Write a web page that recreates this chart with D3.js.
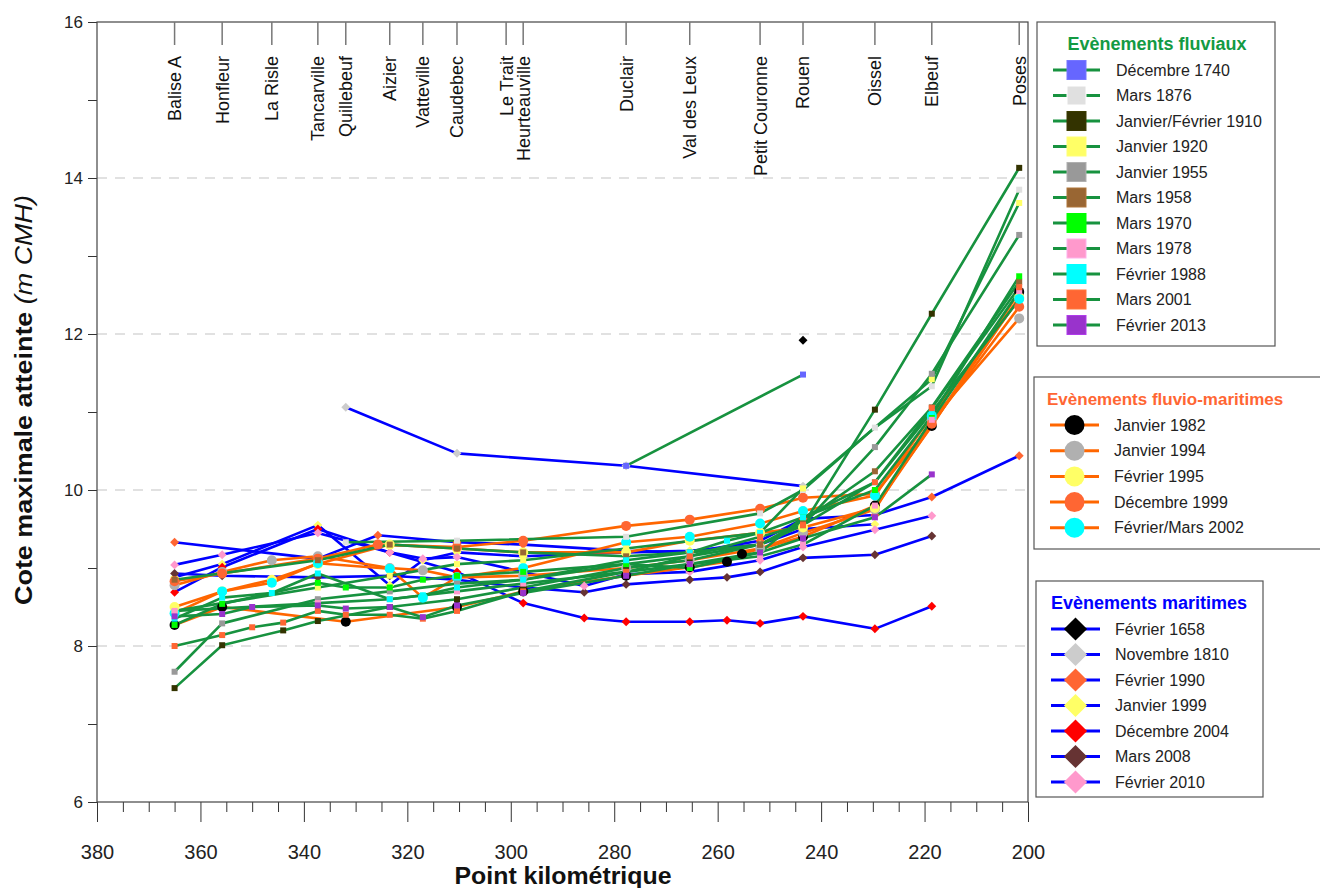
<!DOCTYPE html>
<html><head><meta charset="utf-8">
<script src="https://cdn.jsdelivr.net/npm/d3@7"></script>
<style>body{margin:0;background:#fff;} svg{font-family:"Liberation Sans",Arial,Helvetica,sans-serif;}</style>
</head><body><svg id="c" width="1320" height="888"></svg>
<script>
// ---------- DATA ----------
const stations = ["Balise A","Honfleur","La Risle","Tancarville","Quillebeuf","Aizier","Vatteville","Caudebec","Le Trait","Heurteauville","Duclair","Val des Leux","Petit Couronne","Rouen","Oissel","Elbeuf","Poses"];
const stationPK = [365,355.8,346.2,337.3,331.9,323.4,317,310.4,300.9,297.6,277.7,265.4,251.8,243.5,229.6,218.6,201.7];
const xTicks = [380,360,340,320,300,280,260,240,220,200];
const yTicks = [6,8,10,12,14,16];

// Evènements fluviaux [PK, cote]
const dec1740 = [[277.7,10.31],[243.5,11.48]];
const mar1876 = [[331.9,9.33],[310.4,9.35],[277.7,9.4],[251.8,9.7],[243.5,10.0],[229.6,10.8],[218.6,11.33],[201.7,13.85]];
const janfev1910 = [[365,7.46],[355.8,8.01],[344,8.2],[337.3,8.32],[323.4,8.5],[310.4,8.6],[297.6,8.75],[277.7,9.0],[265.4,9.1],[251.8,9.3],[243.5,9.55],[229.6,11.03],[218.6,12.26],[201.7,14.13]];
const jan1920 = [[365,8.45],[337.3,8.75],[323.4,8.9],[310.4,9.05],[297.6,9.1],[277.7,9.25],[251.8,9.45],[243.5,10.02],[218.6,11.42],[201.7,13.68]];
const jan1955 = [[365,7.67],[355.8,8.29],[337.3,8.6],[323.4,8.7],[310.4,8.8],[297.6,8.85],[277.7,9.05],[265.4,9.15],[251.8,9.3],[243.5,9.55],[229.6,10.55],[218.6,11.49],[201.7,13.27]];
const mar1958 = [[365,8.85],[337.3,9.1],[323.4,9.3],[310.4,9.25],[297.6,9.2],[277.7,9.15],[265.4,9.2],[251.8,9.3],[243.5,9.6],[229.6,10.24],[218.6,11.06],[201.7,12.67]];
const mar1970 = [[365,8.27],[355.8,8.54],[337.3,8.81],[331.9,8.75],[323.4,8.75],[317,8.85],[310.4,8.9],[297.6,8.95],[277.7,9.05],[265.4,9.0],[251.8,9.2],[243.5,9.65],[229.6,10.0],[218.6,10.95],[201.7,12.74]];
const mar1978 = [[365,8.45],[337.3,8.55],[323.4,8.6],[310.4,8.7],[297.6,8.8],[277.7,8.95],[265.4,9.05],[251.8,9.15],[243.5,9.3],[229.6,9.8],[218.6,10.9],[201.7,12.55]];
const fev1988 = [[365,8.35],[355.8,8.62],[346.2,8.68],[337.3,8.93],[323.4,8.6],[317,8.65],[310.4,8.75],[297.6,8.85],[277.7,9.1],[265.4,9.2],[258.2,9.35],[251.8,9.45],[243.5,9.65],[229.6,10.1],[218.6,11.0],[201.7,12.44]];
const mar2001 = [[365,8.0],[355.8,8.14],[350,8.24],[344,8.3],[337.3,8.45],[331.9,8.4],[323.4,8.4],[317,8.35],[310.4,8.45],[297.6,8.7],[277.7,8.95],[265.4,9.15],[251.8,9.4],[243.5,9.55],[229.6,10.1],[218.6,11.05],[201.7,12.6]];
const fev2013 = [[365,8.38],[355.8,8.41],[350,8.5],[337.3,8.52],[331.9,8.48],[323.4,8.5],[317,8.37],[310.4,8.52],[297.6,8.68],[277.7,8.9],[265.4,9.05],[251.8,9.2],[243.5,9.38],[229.6,9.65],[218.6,10.2]];

// Evènements fluvio-maritimes
const jan1982 = [[365,8.27],[355.8,8.5],[331.9,8.31],[310.4,8.5],[297.6,8.7],[277.7,8.9],[265.4,9.01],[258.2,9.08],[255.3,9.18],[243.5,9.4],[229.6,9.8],[218.6,10.82],[201.7,12.54]];
const jan1994 = [[365,8.78],[355.8,8.95],[346.2,9.1],[337.3,9.15],[323.4,9.0],[317,8.97],[310.4,8.88],[297.6,8.9],[277.7,9.0],[265.4,9.1],[251.8,9.25],[243.5,9.45],[229.6,9.75],[218.6,10.9],[201.7,12.2]];
const fev1995 = [[365,8.5],[355.8,8.7],[346.2,8.85],[337.3,9.05],[323.4,9.3],[310.4,9.25],[297.6,9.2],[277.7,9.2],[265.4,9.35],[251.8,9.45],[243.5,9.52],[229.6,9.77],[201.7,12.47]];
const dec1999 = [[365,8.83],[355.8,8.93],[337.3,9.12],[325.7,9.3],[310.4,9.27],[297.6,9.35],[277.7,9.54],[265.4,9.62],[251.8,9.76],[243.5,9.9],[229.6,9.95],[218.6,10.85],[201.7,12.35]];
const fevmar2002 = [[365,8.42],[355.8,8.7],[346.2,8.81],[337.3,9.06],[323.4,8.99],[317,8.62],[310.4,8.88],[297.6,9.0],[277.7,9.33],[265.4,9.4],[251.8,9.57],[243.5,9.73],[229.6,9.93],[218.6,10.95],[201.7,12.45]];

// Evènements maritimes
const fev1658 = [[243.5,11.92]];
const nov1810 = [[331.9,11.06],[310.4,10.47],[277.7,10.31],[243.5,10.05]];
const fev1990 = [[365,9.33],[337.3,9.12],[325.7,9.42],[310.4,9.33],[297.6,9.3],[277.7,9.22],[265.4,9.2],[251.8,9.35],[243.5,9.63],[229.6,9.68],[218.6,9.91],[201.7,10.44]];
const jan1999 = [[365,8.88],[355.8,9.05],[337.3,9.55],[323.4,8.78],[317,9.1],[310.4,9.2],[297.6,9.15],[277.7,9.2],[265.4,9.22],[251.8,9.3],[243.5,9.5],[229.6,9.56]];
const dec2004 = [[365,8.69],[355.8,9.01],[337.3,9.5],[323.4,9.2],[310.4,8.95],[297.6,8.55],[285.8,8.36],[277.7,8.31],[265.4,8.31],[258.2,8.33],[251.8,8.29],[243.5,8.38],[229.6,8.22],[218.6,8.51]];
const mar2008 = [[365,8.93],[355.8,8.9],[337.3,8.88],[323.4,8.9],[310.4,8.85],[297.6,8.75],[285.8,8.69],[277.7,8.79],[265.4,8.85],[258.2,8.88],[251.8,8.95],[243.5,9.13],[229.6,9.17],[218.6,9.41]];
const fev2010 = [[365,9.04],[355.8,9.17],[337.3,9.45],[323.4,9.2],[317,9.12],[310.4,9.14],[297.6,8.95],[285.8,8.77],[277.7,8.92],[265.4,8.95],[251.8,9.1],[243.5,9.27],[229.6,9.49],[218.6,9.67]];

const fluvNames = ["Décembre 1740","Mars 1876","Janvier/Février 1910","Janvier 1920","Janvier 1955","Mars 1958","Mars 1970","Mars 1978","Février 1988","Mars 2001","Février 2013"];
const fluvData = [dec1740,mar1876,janfev1910,jan1920,jan1955,mar1958,mar1970,mar1978,fev1988,mar2001,fev2013];
const fmNames = ["Janvier 1982","Janvier 1994","Février 1995","Décembre 1999","Février/Mars 2002"];
const fmData = [jan1982,jan1994,fev1995,dec1999,fevmar2002];
const marNames = ["Février 1658","Novembre 1810","Février 1990","Janvier 1999","Décembre 2004","Mars 2008","Février 2010"];
const marData = [fev1658,nov1810,fev1990,jan1999,dec2004,mar2008,fev2010];

// ---------- STYLES ----------
const fluvColors = ["#6666ff","#e0e0e0","#333300","#ffff66","#999999","#996633","#00ff00","#ff99cc","#00ffff","#ff6633","#9933cc"];
const fmColors = ["#000000","#b0b0b0","#ffff66","#ff6633","#00ffff"];
const marColors = ["#000000","#cccccc","#ff6633","#ffff66","#ff0000","#663333","#ff99cc"];
const GREEN = "#17923f", ORANGE = "#ff6600", BLUE = "#0000ff";

// ---------- CHART ----------
const svg = d3.select("#c");
const L = 97, R = 1028, T = 22, B = 802;
const x = d3.scaleLinear().domain([380,200]).range([L,R]);
const y = d3.scaleLinear().domain([6,16]).range([B,T]);

// grid
svg.append("g").selectAll("line").data([8,10,12,14]).join("line")
  .attr("x1",L).attr("x2",R).attr("y1",d=>y(d)).attr("y2",d=>y(d))
  .attr("stroke","#d8d8d8").attr("stroke-width",1.5).attr("stroke-dasharray","10,8");

// axes
const yAx = svg.append("g").attr("transform",`translate(${L},0)`)
  .call(d3.axisLeft(y).tickValues(yTicks).tickSize(9).tickFormat(d3.format("d")));
const yMin = svg.append("g").attr("transform",`translate(${L},0)`)
  .call(d3.axisLeft(y).tickValues([7,9,11,13,15]).tickSize(9).tickFormat(""));
const xAx = svg.append("g").attr("transform",`translate(0,${B})`)
  .call(d3.axisBottom(x).tickValues(xTicks).tickSize(20).tickFormat(d3.format("d")));
const minorX = d3.range(375,200,-5).filter(v=>v%20!==0);
const xMin = svg.append("g").attr("transform",`translate(0,${B})`)
  .call(d3.axisBottom(x).tickValues(minorX).tickSize(10).tickFormat(""));
[yAx,yMin,xAx,xMin].forEach(g=>{g.select(".domain").remove(); g.selectAll("line").attr("stroke","#333");});
yAx.selectAll("text").attr("font-size",17).attr("fill","#222").attr("x",-14);
xAx.selectAll("text").attr("font-size",20).attr("fill","#222").attr("dy","1.7em");

// frame
svg.append("rect").attr("x",L).attr("y",T).attr("width",R-L).attr("height",B-T)
  .attr("fill","none").attr("stroke","#444").attr("stroke-width",1.2);

// station ticks and labels
const st = svg.append("g");
st.selectAll("line").data(stationPK).join("line")
  .attr("x1",d=>x(d)).attr("x2",d=>x(d)).attr("y1",T).attr("y2",T+23)
  .attr("stroke","#777").attr("stroke-width",1.5);
st.selectAll("text").data(stations).join("text")
  .attr("transform",(d,i)=>`translate(${x(stationPK[i])},56) rotate(-90)`)
  .attr("text-anchor","end").attr("dy","0.36em").attr("font-size",18).attr("fill","#111")
  .text(d=>d);

// series
const line = d3.line().x(d=>x(d[0])).y(d=>y(d[1]));
const sq = d3.symbol().type(d3.symbolSquare);
function drawGroup(data, lineColor){
  const g = svg.append("g");
  data.forEach(s=>{ if(s.length>1) g.append("path").attr("d",line(s)).attr("fill","none")
     .attr("stroke",lineColor).attr("stroke-width",2.6).attr("stroke-linejoin","round"); });
}
drawGroup(marData, BLUE);
drawGroup(fmData, ORANGE);
drawGroup(fluvData, GREEN);
function drawMarkers(data, colors, kind){
  const g = svg.append("g");
  data.forEach((s,i)=>{
    s.forEach(p=>{
      if(kind==="sq") g.append("path").attr("d",sq.size(36)()).attr("transform",`translate(${x(p[0])},${y(p[1])})`).attr("fill",colors[i]);
      else if(kind==="ci") g.append("circle").attr("cx",x(p[0])).attr("cy",y(p[1])).attr("r",5).attr("fill",colors[i]);
      else g.append("path").attr("d",sq.size(40)()).attr("transform",`translate(${x(p[0])},${y(p[1])}) rotate(45)`).attr("fill",colors[i]);
    });
  });
}
drawMarkers(marData, marColors, "di");
drawMarkers(fmData, fmColors, "ci");
drawMarkers(fluvData, fluvColors, "sq");

// axis titles
svg.append("text").attr("x",563).attr("y",884).attr("text-anchor","middle")
  .attr("font-size",24).attr("font-weight","bold").attr("fill","#111")
  .attr("textLength",217).attr("lengthAdjust","spacingAndGlyphs").text("Point kilométrique");
const yt = svg.append("text").attr("transform","translate(32,400) rotate(-90)").attr("text-anchor","middle")
  .attr("font-size",24).attr("fill","#111").attr("textLength",410).attr("lengthAdjust","spacingAndGlyphs");
yt.append("tspan").attr("font-weight","bold").text("Cote maximale atteinte ");
yt.append("tspan").attr("font-style","italic").text("(m CMH)");

// legends
function legend(box, title, titleColor, names, colors, lineColor, kind){
  const g = svg.append("g");
  g.append("rect").attr("x",box.x).attr("y",box.y).attr("width",box.w).attr("height",box.h)
    .attr("fill","#fff").attr("stroke","#555").attr("stroke-width",1.2);
  g.append("text").attr("x",box.tx).attr("y",box.ty).attr("text-anchor",box.anchor)
    .attr("font-size",box.fs).attr("font-weight","bold").attr("fill",titleColor).text(title);
  names.forEach((n,i)=>{
    const cy = box.e0 + i*box.dy;
    g.append("line").attr("x1",box.lx1).attr("x2",box.lx2).attr("y1",cy).attr("y2",cy)
      .attr("stroke",lineColor).attr("stroke-width",3);
    const mx = (box.lx1+box.lx2)/2;
    if(kind==="sq") g.append("rect").attr("x",mx-9.5).attr("y",cy-9.5).attr("width",19).attr("height",19)
      .attr("fill",colors[i]).attr("stroke",d3.color(colors[i]).brighter(0.4)).attr("stroke-width",1);
    else if(kind==="ci") g.append("circle").attr("cx",mx).attr("cy",cy).attr("r",10).attr("fill",colors[i]);
    else g.append("path").attr("d",sq.size(270)()).attr("transform",`translate(${mx},${cy}) rotate(45)`).attr("fill",colors[i]);
    g.append("text").attr("x",box.txt).attr("y",cy+5.5).attr("font-size",16).attr("fill","#222").text(n);
  });
}
legend({x:1037,y:22,w:238,h:324,tx:1157,ty:50,anchor:"middle",fs:18,e0:70,dy:25.5,lx1:1053,lx2:1100,txt:1116},
  "Evènements fluviaux", "#139a43", fluvNames, fluvColors, GREEN, "sq");
legend({x:1034,y:377,w:300,h:172,tx:1047,ty:405,anchor:"start",fs:17,e0:425,dy:25.7,lx1:1050,lx2:1099,txt:1114},
  "Evènements fluvio-maritimes", "#ff6633", fmNames, fmColors, ORANGE, "ci");
legend({x:1036,y:581,w:227,h:216,tx:1149,ty:609,anchor:"middle",fs:18,e0:629,dy:25.5,lx1:1051,lx2:1100,txt:1115},
  "Evènements maritimes", "#0000ff", marNames, marColors, BLUE, "di");
</script></body></html>
